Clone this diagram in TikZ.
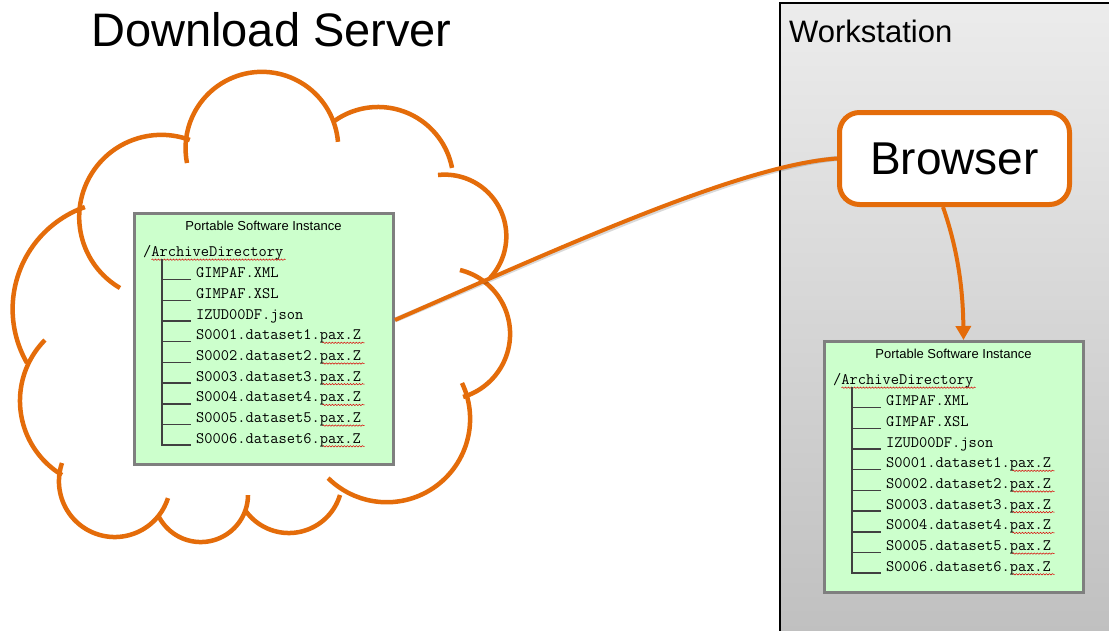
\documentclass[tikz,border=0pt]{standalone}
\usepackage{fontspec}
\setmainfont{Liberation Sans}
\usetikzlibrary{arrows.meta,decorations.pathmorphing}
\definecolor{orng}{HTML}{E46C0A}
\definecolor{boxgreen}{HTML}{CCFFCC}
\definecolor{boxgray}{HTML}{7F7F7F}
\definecolor{treegray}{HTML}{404040}
\tikzset{
  cloudline/.style={draw=orng, line width=4.5pt},
  psibox/.style={rectangle, draw=boxgray, fill=boxgreen, line width=3pt,
    minimum width=259pt, minimum height=251pt, inner sep=0pt, anchor=north west},
  monotext/.style={inner sep=0pt, anchor=base west, text=black,
    font=\ttfamily\fontsize{16}{18}\selectfont},
  titletext/.style={inner sep=0pt, font=\fontsize{13}{15}\selectfont},
  treeline/.style={draw=treegray, line width=1.5pt},
  squig/.style={draw=red!85!black, line width=0.5pt,
    decorate, decoration={snake, segment length=3pt, amplitude=0.7pt}},
  conn/.style={draw=orng, line width=4pt},
  browserbox/.style={rectangle, rounded corners=20pt, draw=orng, line width=5pt,
    fill=white, minimum width=230pt, minimum height=92pt, inner sep=0pt,
    font=\fontsize{46}{55}\selectfont},
  wsbox/.style={rectangle, draw=black, line width=2pt, top color=gray!15,
    bottom color=gray!50, minimum width=340pt, minimum height=640pt,
    anchor=north west, inner sep=0pt}
}
% circular arc through three points (pixel units), from first to last via second
\newcommand\cloudArc[6]{%
  \pgfmathsetmacro\cxa{#1/100}\pgfmathsetmacro\cya{#2/100}%
  \pgfmathsetmacro\cxb{#3/100}\pgfmathsetmacro\cyb{#4/100}%
  \pgfmathsetmacro\cxc{#5/100}\pgfmathsetmacro\cyc{#6/100}%
  \pgfmathsetmacro\cD{2*(\cxa*(\cyb-\cyc)+\cxb*(\cyc-\cya)+\cxc*(\cya-\cyb))}%
  \pgfmathsetmacro\cux{((\cxa*\cxa+\cya*\cya)*(\cyb-\cyc)+(\cxb*\cxb+\cyb*\cyb)*(\cyc-\cya)+(\cxc*\cxc+\cyc*\cyc)*(\cya-\cyb))/\cD}%
  \pgfmathsetmacro\cuy{((\cxa*\cxa+\cya*\cya)*(\cxc-\cxb)+(\cxb*\cxb+\cyb*\cyb)*(\cxa-\cxc)+(\cxc*\cxc+\cyc*\cyc)*(\cxb-\cxa))/\cD}%
  \pgfmathsetmacro\crr{veclen(\cxa-\cux,\cya-\cuy)}%
  \pgfmathsetmacro\caa{atan2(\cya-\cuy,\cxa-\cux)}%
  \pgfmathsetmacro\cab{atan2(\cyb-\cuy,\cxb-\cux)}%
  \pgfmathsetmacro\cac{atan2(\cyc-\cuy,\cxc-\cux)}%
  \pgfmathsetmacro\csw{mod(\cac-\caa+720,360)}%
  \pgfmathsetmacro\cmid{mod(\cab-\caa+720,360)}%
  \pgfmathsetmacro\csweep{\cmid<\csw ? \csw : \csw-360}%
  \draw[cloudline] plot[domain=0:1, samples=60, variable=\u]
    ({100*(\cux+\crr*cos(\caa+\u*\csweep))},{100*(\cuy+\crr*sin(\caa+\u*\csweep))});%
}
\newcommand\psiFill[1]{%
  \node[titletext] (#1-t) at ([shift={(130.5,14)}]#1.north west) {Portable Software Instance};
  \node[monotext] (#1-r) at ([shift={(10,44.7)}]#1.north west) {/ArchiveDirectory};
  \draw[squig] ([shift={(18.5,47.7)}]#1.north west) -- ([shift={(152.5,47.7)}]#1.north west);
  \draw[treeline] ([shift={(29,47)}]#1.north west) -- ([shift={(29,233.4)}]#1.north west);
  \foreach \i/\s in {0/GIMPAF.XML,1/GIMPAF.XSL,2/IZUD00DF.json,3/S0001.dataset1.pax.Z,4/S0002.dataset2.pax.Z,5/S0003.dataset3.pax.Z,6/S0004.dataset4.pax.Z,7/S0005.dataset5.pax.Z,8/S0006.dataset6.pax.Z}{%
    \pgfmathsetmacro\yb{65.7+\i*20.7}
    \node[monotext] (#1-i\i) at ([shift={(63,\yb)}]#1.north west) {\s};
    \draw[treeline] ([shift={(28.25,\yb+1.9)}]#1.north west) -- ([shift={(58,\yb+1.9)}]#1.north west);
  }
  \foreach \i in {3,...,8}{%
    \pgfmathsetmacro\yb{65.7+\i*20.7+3}
    \draw[squig] ([shift={(189.5,\yb)}]#1.north west) -- ([shift={(231.5,\yb)}]#1.north west);
  }
}
\begin{document}
\begin{tikzpicture}[x=1pt, y=-1pt]
\useasboundingbox (0,0) rectangle (1109,630);
\clip (0,0) rectangle (1109,630);
\fill[white] (0,0) rectangle (1109,630);

% workstation panel
\node[wsbox] (ws) at (779,2) {};
\node[anchor=base west, inner sep=0pt, font=\fontsize{31}{36}\selectfont] (wst) at (789,42) {Workstation};

% title
\node[anchor=base west, inner sep=0pt, font=\fontsize{47}{56}\selectfont] (dl) at (91,46) {Download Server};

% cloud
\cloudArc{27}{363}{13}{300}{85}{207}
\cloudArc{120}{288}{88}{180}{190}{140}
\cloudArc{187}{163}{267}{72}{338}{142}
\cloudArc{333}{122}{377}{107}{452}{168}
\cloudArc{438}{175}{506}{230}{490}{278}
\cloudArc{460}{270}{510}{330}{463}{397}
\cloudArc{462}{383}{440}{483}{328}{478}
\cloudArc{340}{495}{288}{533}{245}{510}
\cloudArc{158}{515}{200}{542}{248}{495}
\cloudArc{62}{463}{117}{537}{168}{498}
\cloudArc{62}{475}{20}{400}{45}{340}

% boxes
\node[psibox] (lbox) at (133,212) {};
\psiFill{lbox}
\node[psibox] (rbox) at (823,340) {};
\psiFill{rbox}

% browser
\node[browserbox] (browser) at (954.5,158.5) {\raisebox{-3pt}{Browser}};

% connectors
\draw[black, opacity=0.15, line width=5pt, shift={(1,2)}] ([yshift=19pt]lbox.east) .. controls (560,248) and (740,165) .. (browser.west);
\draw[conn] ([yshift=19pt]lbox.east) .. controls (560,248) and (740,165) .. (browser.west);
\draw[conn, -{Triangle[width=15pt,length=14pt]}] ([xshift=-11.5pt]browser.south) .. controls (958,250) and (963,290) .. ([xshift=9.5pt]rbox.north);
\end{tikzpicture}
\end{document}
